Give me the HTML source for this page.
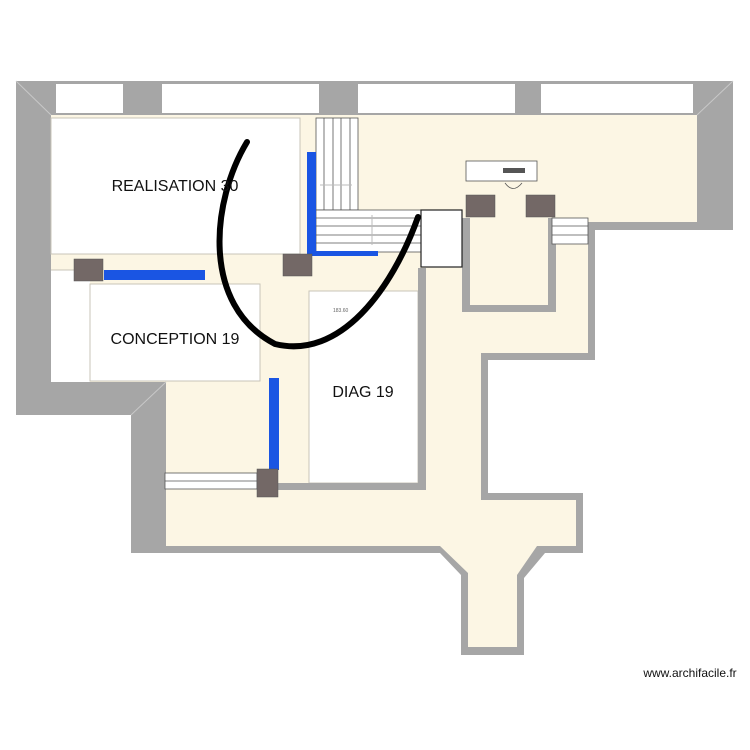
<!DOCTYPE html>
<html><head><style>body{margin:0;background:#fff}svg{display:block}text{font-family:"Liberation Sans",sans-serif}</style></head><body>
<svg width="750" height="750" viewBox="0 0 750 750" xmlns="http://www.w3.org/2000/svg">
<rect width="750" height="750" fill="#fff"/>
<polygon fill="#a6a6a6" points="16,81 733,81 733,230 595,230 595,360 488,360 488,493 583,493 583,553 545,553 524,578 524,655 461,655 461,575 440,553 131,553 131,415 16,415"/>
<polygon fill="#fcf6e4" points="51,115 697,115 697,222 588,222 588,353 481,353 481,500 576,500 576,546 537,546 517,575 517,647 468,647 468,573 440,546 166,546 166,382 51,382"/>
<g fill="#fff"><rect x="56" y="84" width="67" height="29"/><rect x="162" y="84" width="157" height="29"/><rect x="358" y="84" width="157" height="29"/><rect x="541" y="84" width="152" height="29"/></g>
<g stroke="#c8c8c8" stroke-width="1"><line x1="16" y1="81" x2="51" y2="115"/><line x1="733" y1="81" x2="697" y2="115"/><line x1="131" y1="415" x2="166" y2="382"/></g>
<rect x="51" y="118" width="249" height="136" fill="#fff" stroke="#c8c4b8"/>
<rect x="51" y="270" width="39" height="112" fill="#fff"/>
<line x1="51" y1="270" x2="90" y2="270" stroke="#c8c4b8"/>
<rect x="90" y="284" width="170" height="97" fill="#fff" stroke="#c8c4b8"/>
<rect x="309" y="291" width="109" height="192" fill="#fff" stroke="#c8c4b8"/>
<text x="333" y="312" font-size="5" fill="#666">183.60</text>
<rect x="418" y="268" width="8" height="222" fill="#a6a6a6"/>
<rect x="277" y="483" width="149" height="7" fill="#a6a6a6"/>
<rect x="462" y="218" width="8" height="94" fill="#a6a6a6"/>
<rect x="462" y="305" width="94" height="7" fill="#a6a6a6"/>
<rect x="548" y="218" width="8" height="94" fill="#a6a6a6"/>
<rect x="316" y="118" width="42" height="92" fill="#fff" stroke="#555" stroke-width="0.8"/>
<g stroke="#555" stroke-width="0.8"><line x1="324" y1="118" x2="324" y2="210"/><line x1="333" y1="118" x2="333" y2="210"/><line x1="341" y1="118" x2="341" y2="210"/><line x1="350" y1="118" x2="350" y2="210"/></g>
<rect x="316" y="210" width="111" height="42" fill="#fff" stroke="#555" stroke-width="0.8"/>
<g stroke="#555" stroke-width="0.8"><line x1="316" y1="218" x2="427" y2="218"/><line x1="316" y1="226" x2="427" y2="226"/><line x1="316" y1="235" x2="427" y2="235"/><line x1="316" y1="243" x2="427" y2="243"/></g>
<line x1="372" y1="215" x2="372" y2="245" stroke="#bbb"/>
<line x1="320" y1="185" x2="352" y2="185" stroke="#bbb"/>
<rect x="421" y="210" width="41" height="57" fill="#fff" stroke="#222" stroke-width="1.2"/>
<rect x="552" y="218" width="36" height="26" fill="#fff" stroke="#555" stroke-width="0.8"/>
<line x1="552" y1="226" x2="588" y2="226" stroke="#555" stroke-width="0.8"/><line x1="552" y1="235" x2="588" y2="235" stroke="#555" stroke-width="0.8"/>
<rect x="165" y="473" width="92" height="16" fill="#fff" stroke="#555" stroke-width="0.8"/>
<line x1="165" y1="481" x2="257" y2="481" stroke="#555" stroke-width="0.8"/>
<rect x="466" y="161" width="71" height="20" fill="#fff" stroke="#555" stroke-width="0.8"/>
<rect x="503" y="168" width="22" height="5" fill="#555"/>
<path d="M505,183 Q513,194 522,183" fill="none" stroke="#555" stroke-width="0.8"/>
<g fill="#1a55e3"><rect x="307" y="152" width="9" height="103"/><rect x="310" y="251" width="68" height="5"/><rect x="104" y="270" width="101" height="10"/><rect x="269" y="378" width="10" height="92"/></g>
<g fill="#736866" stroke="#555" stroke-width="0.5"><rect x="74" y="259" width="29" height="22"/><rect x="283" y="254" width="29" height="22"/><rect x="466" y="195" width="29" height="22"/><rect x="526" y="195" width="29" height="22"/><rect x="257" y="469" width="21" height="28"/></g>
<path d="M247,142 C212,200 200,305 275,344 C340,360 392,290 418,217" fill="none" stroke="#000" stroke-width="6" stroke-linecap="round"/>
<text x="175" y="191" font-size="16" text-anchor="middle" fill="#111">REALISATION 30</text>
<text x="175" y="344" font-size="16" text-anchor="middle" fill="#111">CONCEPTION 19</text>
<text x="363" y="397" font-size="16" text-anchor="middle" fill="#111">DIAG 19</text>
<text x="690" y="677" font-size="12" text-anchor="middle" fill="#111">www.archifacile.fr</text>
</svg>
</body></html>
